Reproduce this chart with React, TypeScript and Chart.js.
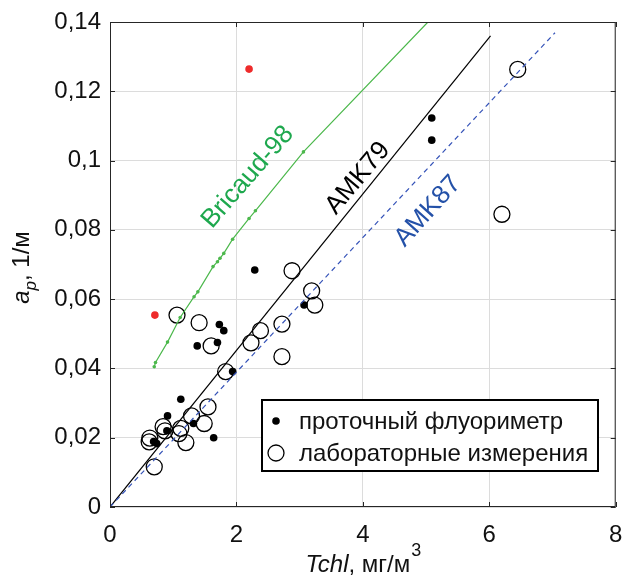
import React, { useEffect, useRef } from "react";
import { Chart, registerables } from "chart.js";

Chart.register(...registerables);

// Bricaud-98 model curve (points with small markers)
const bricaudX = [0.70, 0.72, 0.91, 1.11, 1.33, 1.39, 1.63, 1.70, 1.74, 1.80, 1.94, 2.20, 2.30, 3.06, 5.03];
const bricaudY = [0.0405, 0.0417, 0.0476, 0.0547, 0.0607, 0.0621, 0.0694, 0.0708, 0.0718, 0.0732, 0.0773, 0.0833, 0.0855, 0.1025, 0.140];

// AMK79 and AMK87 lines
const amk79X = [0, 6.02];
const amk79Y = [0, 0.136];
const amk87X = [0, 7.04];
const amk87Y = [0, 0.1369];

// проточный флуориметр (filled)
const flowX = [5.09, 5.09, 2.29, 3.07, 1.73, 1.80, 1.38, 1.70, 1.94, 1.12, 0.91, 1.32, 0.90, 1.64, 0.69, 0.74];
const flowY = [0.1123, 0.1059, 0.0684, 0.0583, 0.0527, 0.0509, 0.0465, 0.0475, 0.0391, 0.0311, 0.0263, 0.0241, 0.0220, 0.0200, 0.0189, 0.0183];

// лабораторные измерения (open)
const labX = [6.45, 6.20, 2.88, 3.19, 3.24, 2.72, 2.38, 2.23, 2.72, 1.06, 1.41, 1.60, 1.83, 1.55, 1.29, 1.49, 0.84, 0.87, 1.12, 1.09, 1.20, 0.63, 0.62, 0.70];
const labY = [0.1263, 0.0845, 0.0682, 0.0624, 0.0583, 0.0528, 0.0509, 0.0474, 0.0434, 0.0554, 0.0532, 0.0465, 0.0391, 0.0289, 0.0263, 0.0241, 0.0232, 0.0220, 0.0227, 0.0212, 0.0186, 0.0199, 0.0188, 0.0116];

// red outliers
const redX = [0.71, 2.20];
const redY = [0.0554, 0.1264];

const xTicks = [0, 2, 4, 6, 8];
const yTicks = [0, 0.02, 0.04, 0.06, 0.08, 0.1, 0.12, 0.14];

const legendLabels = ["проточный флуориметр", "лабораторные измерения"];
const curveLabels = [
  { text: "Bricaud-98", x: 2.18, y: 0.0952, angle: -49, color: "#1ea84e" },
  { text: "AMK79", x: 3.92, y: 0.0949, angle: -50, color: "#000000" },
  { text: "AMK87", x: 5.03, y: 0.0854, angle: -48, color: "#2451a8" },
];

const FONT = "'Liberation Sans', Arial, sans-serif";

const zip = (xs: number[], ys: number[]) => xs.map((x, i) => ({ x, y: ys[i] }));

const fmtY = (v: number) => (v === 0 ? "0" : String(+v.toFixed(2)).replace(".", ","));

const decorPlugin = {
  id: "decor",
  afterDraw(chart: any) {
    const { ctx, chartArea: a, scales } = chart;
    const xs = scales.x;
    const ys = scales.y;
    ctx.save();
    // frame
    ctx.strokeStyle = "#262626";
    ctx.lineWidth = 1;
    ctx.strokeRect(a.left + 0.5, a.top + 0.5, a.right - a.left - 1, a.bottom - a.top - 1);
    // inward ticks
    const tl = 5;
    ctx.beginPath();
    xTicks.forEach((t) => {
      const px = Math.round(xs.getPixelForValue(t)) + 0.5;
      ctx.moveTo(px, a.bottom);
      ctx.lineTo(px, a.bottom - tl);
      ctx.moveTo(px, a.top);
      ctx.lineTo(px, a.top + tl);
    });
    yTicks.forEach((t) => {
      const py = Math.round(ys.getPixelForValue(t)) + 0.5;
      ctx.moveTo(a.left, py);
      ctx.lineTo(a.left + tl, py);
      ctx.moveTo(a.right, py);
      ctx.lineTo(a.right - tl, py);
    });
    ctx.stroke();

    // curve labels
    curveLabels.forEach((l) => {
      ctx.save();
      ctx.translate(xs.getPixelForValue(l.x), ys.getPixelForValue(l.y));
      ctx.rotate((l.angle * Math.PI) / 180);
      ctx.fillStyle = l.color;
      ctx.font = `26px ${FONT}`;
      ctx.textAlign = "center";
      ctx.textBaseline = "middle";
      ctx.fillText(l.text, 0, 0);
      ctx.restore();
    });

    // legend box
    const lx = 262, ly = 400, lw = 336, lh = 71;
    ctx.fillStyle = "#ffffff";
    ctx.fillRect(lx, ly, lw, lh);
    ctx.strokeStyle = "#000000";
    ctx.lineWidth = 2;
    ctx.strokeRect(lx, ly, lw, lh);
    ctx.fillStyle = "#000";
    ctx.beginPath();
    ctx.arc(276, 421, 3.8, 0, Math.PI * 2);
    ctx.fill();
    ctx.lineWidth = 1.3;
    ctx.beginPath();
    ctx.arc(276, 453, 8, 0, Math.PI * 2);
    ctx.stroke();
    ctx.font = `24px ${FONT}`;
    ctx.textAlign = "left";
    ctx.textBaseline = "alphabetic";
    ctx.fillStyle = "#111";
    ctx.fillText(legendLabels[0], 299, 429);
    ctx.fillText(legendLabels[1], 299, 461);

    // x axis title
    const cx = (a.left + a.right) / 2;
    const by = 572;
    const p1 = "Tchl";
    const p2 = ", мг/м";
    const p3 = "3";
    ctx.font = `italic 24px ${FONT}`;
    const w1 = ctx.measureText(p1).width;
    ctx.font = `24px ${FONT}`;
    const w2 = ctx.measureText(p2).width;
    ctx.font = `18px ${FONT}`;
    const w3 = ctx.measureText(p3).width;
    let sx = cx - (w1 + w2 + w3) / 2;
    ctx.fillStyle = "#111";
    ctx.font = `italic 24px ${FONT}`;
    ctx.fillText(p1, sx, by);
    sx += w1;
    ctx.font = `24px ${FONT}`;
    ctx.fillText(p2, sx, by);
    sx += w2;
    ctx.font = `18px ${FONT}`;
    ctx.fillText(p3, sx + 1, by - 16);

    // y axis title
    ctx.save();
    const cy = (a.top + a.bottom) / 2 + 3;
    ctx.translate(29, cy);
    ctx.rotate(-Math.PI / 2);
    const q1 = "a";
    const q2 = "p";
    const q3 = ", 1/м";
    ctx.font = `italic 24px ${FONT}`;
    const v1 = ctx.measureText(q1).width;
    ctx.font = `italic 17px ${FONT}`;
    const v2 = ctx.measureText(q2).width;
    ctx.font = `24px ${FONT}`;
    const v3 = ctx.measureText(q3).width;
    let tx = -(v1 + v2 + v3) / 2;
    ctx.font = `italic 24px ${FONT}`;
    ctx.fillText(q1, tx, 0);
    tx += v1;
    ctx.font = `italic 17px ${FONT}`;
    ctx.fillText(q2, tx, 7);
    tx += v2;
    ctx.font = `24px ${FONT}`;
    ctx.fillText(q3, tx, 0);
    ctx.restore();

    ctx.restore();
  },
};

export default function App() {
  const ref = useRef<HTMLCanvasElement | null>(null);
  useEffect(() => {
    document.body.style.margin = "0";
    if (!ref.current) return;
    const bricaudRadius = bricaudX.map((_, i) => (i === bricaudX.length - 1 ? 0 : 1.8));
    const chart = new Chart(ref.current, {
      type: "scatter",
      data: {
        datasets: [
          {
            type: "line",
            data: zip(amk87X, amk87Y),
            borderColor: "#3553b8",
            borderWidth: 1.2,
            borderDash: [5, 4],
            pointRadius: 0,
            fill: false,
          } as any,
          {
            type: "line",
            data: zip(amk79X, amk79Y),
            borderColor: "#000000",
            borderWidth: 1.2,
            pointRadius: 0,
            fill: false,
          } as any,
          {
            type: "line",
            data: zip(bricaudX, bricaudY),
            borderColor: "#4cb84c",
            backgroundColor: "#4cb84c",
            borderWidth: 1.2,
            pointRadius: bricaudRadius,
            pointBorderWidth: 0,
            fill: false,
          } as any,
          {
            data: zip(flowX, flowY),
            backgroundColor: "#000000",
            borderColor: "#000000",
            pointRadius: 3.8,
            pointBorderWidth: 0,
          },
          {
            data: zip(labX, labY),
            backgroundColor: "rgba(0,0,0,0)",
            borderColor: "#000000",
            pointRadius: 8,
            pointBorderWidth: 1.3,
          },
          {
            data: zip(redX, redY),
            backgroundColor: "#ee2b2b",
            borderColor: "#ee2b2b",
            pointRadius: 3.8,
            pointBorderWidth: 0,
          },
        ],
      },
      options: {
        animation: false,
        responsive: false,
        events: [],
        layout: { padding: { top: 22, right: 7, left: 0, bottom: 0 } },
        plugins: { legend: { display: false }, tooltip: { enabled: false } },
        scales: {
          x: {
            type: "linear",
            min: 0,
            max: 8,
            afterFit: (s: any) => {
              s.height = 78;
              s.paddingLeft = 0;
              s.paddingRight = 0;
            },
            afterBuildTicks: (s: any) => {
              s.ticks = xTicks.map((v) => ({ value: v }));
            },
            ticks: {
              autoSkip: false,
              maxRotation: 0,
              padding: 14,
              color: "#111",
              font: { family: FONT, size: 24 },
              callback: (v: any) => String(v),
            },
            grid: { color: "#dcdcdc", lineWidth: 1, drawTicks: false },
            border: { display: false },
          },
          y: {
            type: "linear",
            min: 0,
            max: 0.14,
            afterFit: (s: any) => {
              s.width = 110;
              s.paddingTop = 0;
              s.paddingBottom = 0;
            },
            afterBuildTicks: (s: any) => {
              s.ticks = yTicks.map((v) => ({ value: v }));
            },
            ticks: {
              autoSkip: false,
              padding: 9,
              color: "#111",
              font: { family: FONT, size: 24 },
              callback: (v: any) => fmtY(Number(v)),
            },
            grid: { color: "#dcdcdc", lineWidth: 1, drawTicks: false },
            border: { display: false },
          },
        },
      },
      plugins: [decorPlugin],
    });
    return () => chart.destroy();
  }, []);
  return (
    <div style={{ width: 625, height: 585, background: "#fff" }}>
      <canvas ref={ref} width={625} height={585} style={{ display: "block" }} />
    </div>
  );
}
